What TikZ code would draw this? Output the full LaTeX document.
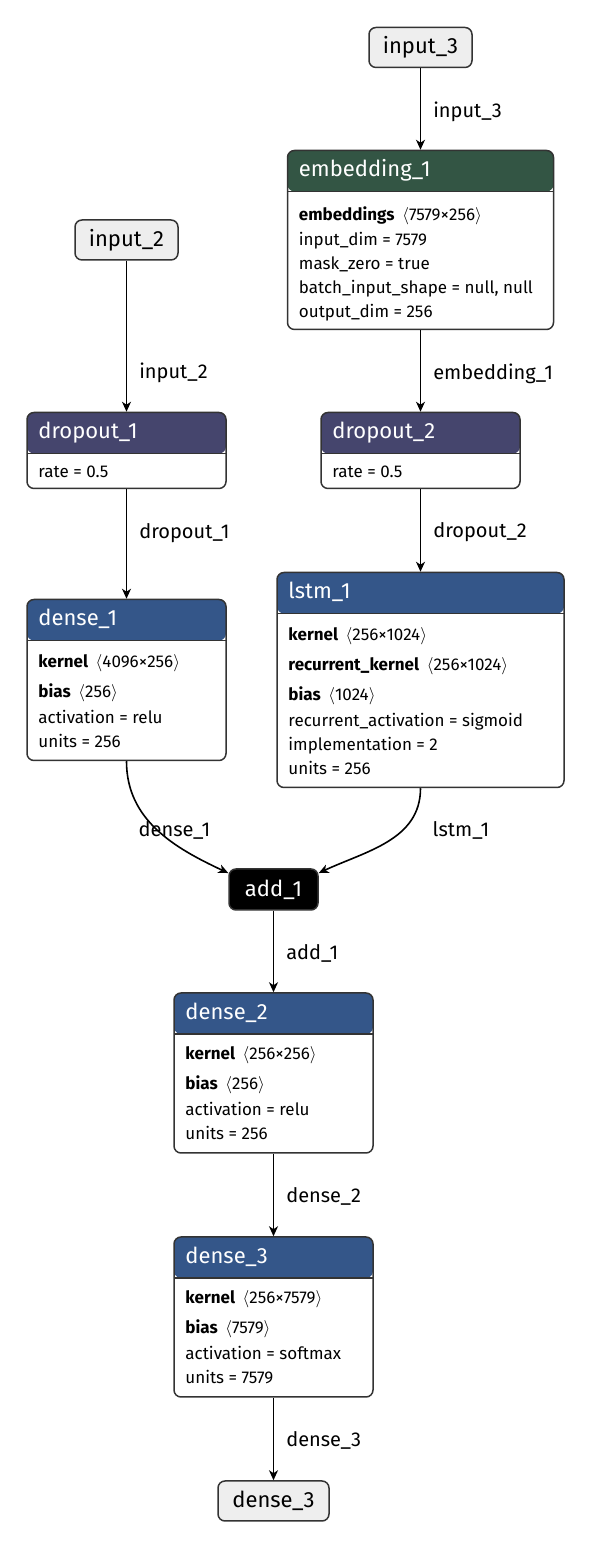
\documentclass[tikz,border=0pt]{standalone}
\usepackage{fontspec}
\setmainfont{Fira Sans}
\usetikzlibrary{positioning}
\usetikzlibrary{arrows.meta}
\definecolor{embgreen}{HTML}{335544}
\definecolor{droppurple}{HTML}{45456D}
\definecolor{denseblue}{HTML}{345689}
\definecolor{edgegray}{HTML}{333333}
\definecolor{iofill}{HTML}{EEEEEE}

\begin{document}
\begin{tikzpicture}[
    x=1pt, y=1pt,
    node distance=81.5pt and 93.5pt, % Global setup of box spacing
    ]
% -------------------------------------------------
\tikzset{
  base/.style={draw=edgegray, line width=1.5pt, rounded corners=7pt, inner sep=0pt},
  io/.style={base, fill=iofill, minimum width=103pt, minimum height=40pt, font=\fontsize{22pt}{26pt}\selectfont},
  merge/.style={base, fill=black, text=white, minimum width=89pt, minimum height=41pt, font=\fontsize{22pt}{26pt}\selectfont},
  layer/.style={base, fill=white, minimum width=199pt, path picture={
      \fill[#1] (path picture bounding box.north west) rectangle ([yshift=-41pt]path picture bounding box.north east);
      \draw[edgegray, line width=1.5pt] ([yshift=-41pt]path picture bounding box.north west) -- ([yshift=-41pt]path picture bounding box.north east);}},
  title/.style={anchor=west, text=white, inner sep=0pt, font=\fontsize{22pt}{26pt}\selectfont},
  params/.style={anchor=base west, align=left, inner sep=0pt, font=\fontsize{17pt}{24pt}\selectfont},
  line/.style={draw, line width=1.6pt, -{Stealth[length=10pt, width=9pt, inset=3pt]}},
  elabel/.style={anchor=west, inner sep=0pt, xshift=12pt, font=\fontsize{20pt}{24pt}\selectfont}
}
\useasboundingbox (0,0) rectangle (592,1548);
% -------------------------------------------------
% Placing the nodes

% right branch
\node [io] (in3) at (420.5,1500.5) {input\_3};
\node [layer=embgreen, minimum width=266pt, minimum height=179pt, below=of in3] (emb) {};
\node [title] (emb-t) at ([xshift=12pt, yshift=-20.5pt]emb.north west) {embedding\_1};
\node [params] (emb-p) at ([xshift=12pt, yshift=13pt]emb.south west)
  {\textbf{embeddings}\hspace{0.45em}$\langle$7579×256$\rangle$\\[1pt]
   input\_dim = 7579\\ mask\_zero = true\\
   batch\_input\_shape = null, null\\ output\_dim = 256};

\node [layer=droppurple, minimum height=76pt, below=of emb] (dp2) {};
\node [title] (dp2-t) at ([xshift=12pt, yshift=-20.5pt]dp2.north west) {dropout\_2};
\node [params] (dp2-p) at ([xshift=12pt, yshift=11.5pt]dp2.south west) {rate = 0.5};

\node [layer=denseblue, minimum width=287pt, minimum height=215pt, below=82.5pt of dp2] (lstm) {};
\node [title] (lstm-t) at ([xshift=12pt, yshift=-20.5pt]lstm.north west) {lstm\_1};
\node [params] (lstm-p) at ([xshift=12pt, yshift=14pt]lstm.south west)
  {\textbf{kernel}\hspace{0.45em}$\langle$256×1024$\rangle$\\[6pt]
   \textbf{recurrent\_kernel}\hspace{0.45em}$\langle$256×1024$\rangle$\\[6pt]
   \textbf{bias}\hspace{0.45em}$\langle$1024$\rangle$\\[2pt]
   recurrent\_activation = sigmoid\\ implementation = 2\\ units = 256};

% left branch
\node [io] (in2) at (126.5,1308) {input\_2};
\node [layer=droppurple, minimum height=76pt, left=of dp2] (dp1) {};
\node [title] (dp1-t) at ([xshift=12pt, yshift=-20.5pt]dp1.north west) {dropout\_1};
\node [params] (dp1-p) at ([xshift=12pt, yshift=11.5pt]dp1.south west) {rate = 0.5};

\node [layer=denseblue, minimum height=161pt, left=49.5pt of lstm] (dns1) {};
\node [title] (dns1-t) at ([xshift=12pt, yshift=-20.5pt]dns1.north west) {dense\_1};
\node [params] (dns1-p) at ([xshift=12pt, yshift=14pt]dns1.south west)
  {\textbf{kernel}\hspace{0.45em}$\langle$4096×256$\rangle$\\[6pt]
   \textbf{bias}\hspace{0.45em}$\langle$256$\rangle$\\[2pt]
   activation = relu\\ units = 256};

% merged trunk
\node [merge] (add) at (273.5,658.5) {add\_1};

\node [layer=denseblue, minimum height=160pt, below=of add] (dns2) {};
\node [title] (dns2-t) at ([xshift=12pt, yshift=-20.5pt]dns2.north west) {dense\_2};
\node [params] (dns2-p) at ([xshift=12pt, yshift=14pt]dns2.south west)
  {\textbf{kernel}\hspace{0.45em}$\langle$256×256$\rangle$\\[6pt]
   \textbf{bias}\hspace{0.45em}$\langle$256$\rangle$\\[2pt]
   activation = relu\\ units = 256};

\node [layer=denseblue, minimum height=160pt, below=82.5pt of dns2] (dns3) {};
\node [title] (dns3-t) at ([xshift=12pt, yshift=-20.5pt]dns3.north west) {dense\_3};
\node [params] (dns3-p) at ([xshift=12pt, yshift=14pt]dns3.south west)
  {\textbf{kernel}\hspace{0.45em}$\langle$256×7579$\rangle$\\[6pt]
   \textbf{bias}\hspace{0.45em}$\langle$7579$\rangle$\\[2pt]
   activation = softmax\\ units = 7579};

\node [io, minimum width=111pt, below=82.5pt of dns3] (out) {dense\_3};

% -------------------------------------------------
% Connectors
\path [line] (in3) -- node[elabel, pos=0.53] (l-in3) {input\_3} (emb);
\path [line] (emb) -- node[elabel, pos=0.53] (l-emb) {embedding\_1} (dp2);
\path [line] (dp2) -- node[elabel, pos=0.52] (l-dp2) {dropout\_2} (lstm);
\path [line] (in2) -- node[elabel, pos=0.74] (l-in2) {input\_2} (dp1);
\path [line] (dp1) -- node[elabel, pos=0.40] (l-dp1) {dropout\_1} (dns1);
\path [line] (dns1.south) to[out=-90, in=155] (add.160);
\path [line] (lstm.south) to[out=-90, in=25] (add.20);
\node [elabel] (l-dns1) at ([yshift=-69pt]dns1.south) {dense\_1};
\node [elabel] (l-lstm) at ([yshift=-42pt]lstm.south) {lstm\_1};
\path [line] (add) -- node[elabel, pos=0.52] (l-add) {add\_1} (dns2);
\path [line] (dns2) -- node[elabel, pos=0.52] (l-dns2) {dense\_2} (dns3);
\path [line] (dns3) -- node[elabel, pos=0.52] (l-dns3) {dense\_3} (out);

\end{tikzpicture}
\end{document}
